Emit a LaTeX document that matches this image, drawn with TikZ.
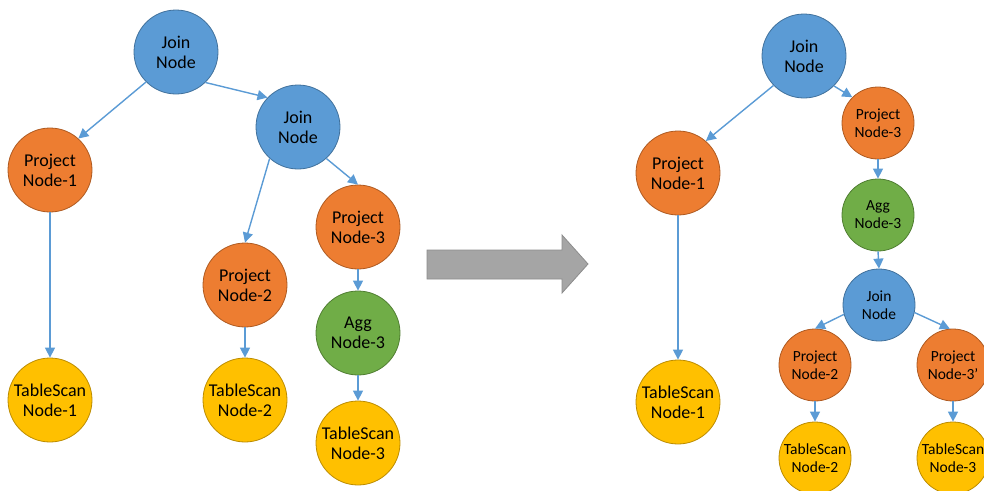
\documentclass[tikz,border=0pt]{standalone}
\usepackage{fontspec}
\setmainfont{Carlito}
\usetikzlibrary{arrows.meta}
\definecolor{cblue}{HTML}{5B9BD5}
\definecolor{cblueb}{HTML}{41719C}
\definecolor{corange}{HTML}{ED7D31}
\definecolor{corangeb}{HTML}{AE5A21}
\definecolor{cgreen}{HTML}{70AD47}
\definecolor{cgreenb}{HTML}{507E32}
\definecolor{cyellow}{HTML}{FFC000}
\definecolor{cyellowb}{HTML}{BC8C00}
\definecolor{cgray}{HTML}{A5A5A5}
\definecolor{cgrayb}{HTML}{8C8C8C}
\tikzset{
  nd/.style={circle, inner sep=0pt, minimum size=84pt, align=center, line width=0.8pt,
    font=\fontsize{18}{20}\selectfont},
  sm/.style={minimum size=72pt, font=\fontsize{15.5}{18}\selectfont},
  joinn/.style={nd, fill=cblue, draw=cblueb},
  projn/.style={nd, fill=corange, draw=corangeb},
  aggn/.style={nd, fill=cgreen, draw=cgreenb},
  tsn/.style={nd, fill=cyellow, draw=cyellowb},
  conn/.style={draw=cblue, line width=1.4pt, -{Triangle[length=10pt,width=10pt]}},
}
\begin{document}
\begin{tikzpicture}[x=1pt,y=-1pt]
\useasboundingbox (0,0) rectangle (984,490);
% left tree
\node[joinn] (j1) at (176,52) {Join\\Node};
\node[joinn] (j2) at (298,127) {Join\\Node};
\node[projn] (p1) at (50,170) {Project\\Node-1};
\node[projn] (p2) at (245,285) {Project\\Node-2};
\node[projn] (p3) at (358,227) {Project\\Node-3};
\node[aggn] (a3) at (358,333) {Agg\\Node-3};
\node[tsn] (t1) at (50,400) {TableScan\\Node-1};
\node[tsn] (t2) at (245,400) {TableScan\\Node-2};
\node[tsn] (t3) at (358,443) {TableScan\\Node-3};
\draw[conn] (j1.225) -- (p1.48);
\draw[conn] (j1.-46) -- (j2.136);
\draw[conn] (j2.228) -- (p2.north);
\draw[conn] (j2.-48) -- (p3.north);
\draw[conn] (p1.south) -- (t1.north);
\draw[conn] (p2.south) -- (t2.north);
\draw[conn] (p3.south) -- (a3.north);
\draw[conn] (a3.south) -- (t3.north);
% block arrow
\fill[cgray, draw=cgrayb, line width=0.8pt] (427,250) -- (562,250) -- (562,235) -- (588,264) -- (562,293) -- (562,279) -- (427,279) -- cycle;
% right tree
\node[joinn] (rj1) at (804,56) {Join\\Node};
\node[projn] (rp1) at (678,173) {Project\\Node-1};
\node[tsn] (rt1) at (678,402) {TableScan\\Node-1};
\node[projn,sm] (rp3) at (878,123) {Project\\Node-3};
\node[aggn,sm] (ra3) at (878,215) {Agg\\Node-3};
\node[joinn,sm] (rj2) at (879,305) {Join\\Node};
\node[projn,sm] (rp2) at (815,365) {Project\\Node-2};
\node[projn,sm] (rp3b) at (953,365) {Project\\Node-3’};
\node[tsn,sm] (rt2) at (815,458) {TableScan\\Node-2};
\node[tsn,sm] (rt3) at (953,458) {TableScan\\Node-3};
\draw[conn] (rj1.224) -- (rp1.49);
\draw[conn] (rj1.-45) -- (rp3.135);
\draw[conn] (rp1.south) -- (rt1.north);
\draw[conn] (rp3.south) -- (ra3.north);
\draw[conn] (ra3.south) -- (rj2.north);
\draw[conn] (rj2.195) -- (rp2.north);
\draw[conn] (rj2.-12) -- (rp3b.95);
\draw[conn] (rp2.south) -- (rt2.north);
\draw[conn] (rp3b.south) -- (rt3.north);
\end{tikzpicture}
\end{document}
